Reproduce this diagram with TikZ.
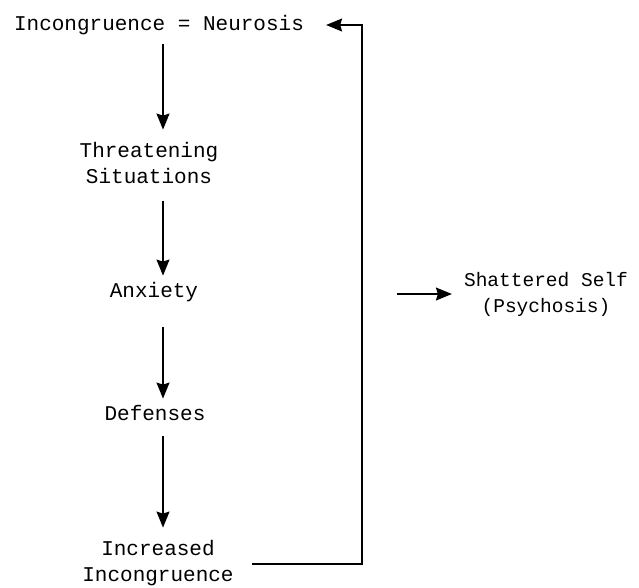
\documentclass[tikz,border=0pt]{standalone}
\usepackage{fontspec}
\setmonofont{Liberation Mono}
\usetikzlibrary{arrows.meta,calc}
\begin{document}
\begin{tikzpicture}[x=1pt,y=-1pt,
  lbl/.style={inner sep=0pt,font=\ttfamily\fontsize{21}{26}\selectfont,align=center},
  ln/.style={line width=1.4pt},
  arr/.style={ln,-{Stealth[length=16pt,width=13pt,inset=2pt]}}]
\useasboundingbox (0,0) rectangle (639,587);
\node[lbl,anchor=base] (inc) at (159,30) {Incongruence = Neurosis};
\node[lbl,anchor=base] (thr) at (149,183) {Threatening\\Situations};
\node[lbl,anchor=base] (anx) at (154,297) {Anxiety};
\node[lbl,anchor=base] (def) at (155,420) {Defenses};
\node[lbl,anchor=base] (iinc) at (158,581) {Increased\\Incongruence};
\node[lbl,anchor=base,font=\ttfamily\fontsize{19.5}{26}\selectfont] (sh) at (546,312) {Shattered Self\\(Psychosis)};
\coordinate (ax) at (163,0);
\coordinate (tr) at (362,25);
\coordinate (br) at (362,564);
\coordinate (s0) at (397,294);
\draw[arr,shorten <=9pt,shorten >=12pt] (inc.south -| ax) -- (thr.north -| ax);
\draw[arr,shorten <=18pt,shorten >=6pt] (thr.south -| ax) -- (anx.north -| ax);
\draw[arr,shorten <=25pt,shorten >=6pt] (anx.south -| ax) -- (def.north -| ax);
\draw[arr,shorten <=16pt,shorten >=12pt] (def.south -| ax) -- (iinc.north -| ax);
\draw[arr] ([xshift=18pt]iinc.east |- br) -- (br) -- (tr) -- ([xshift=22pt]inc.east |- tr);
\draw[arr,shorten >=12pt] (s0) -- (sh.west |- s0);
\end{tikzpicture}
\end{document}
